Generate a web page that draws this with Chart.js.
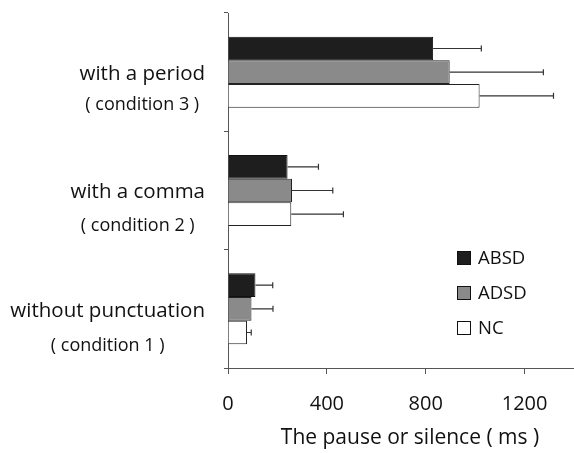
<!DOCTYPE html>
<html><head><meta charset="utf-8">
<script src="https://cdn.jsdelivr.net/npm/chart.js@4"></script>
<style>html,body{margin:0;padding:0;background:#fff}#wrap{width:574px;height:453px;position:relative}</style>
</head><body><div id="wrap"><canvas id="c" width="574" height="453"></canvas></div>
<script>
const categories = ["with a period", "with a comma", "without punctuation"];
const subLabels = ["( condition 3 )", "( condition 2 )", "( condition 1 )"];
const seriesNames = ["ABSD", "ADSD", "NC"];
const absd = [830, 241, 111];
const adsd = [897, 259, 95];
const nc = [1018, 256, 77];
const absdErr = [195, 125, 70];
const adsdErr = [379, 165, 87];
const ncErr = [299, 211, 17];
const xTicks = [0, 400, 800, 1200];
const xTitle = "The pause or silence ( ms )";

const FONT = "'Open Sans', 'Noto Sans', sans-serif";
const fills = ["#1e1e1e", "#8a8a8a", "#ffffff"];
const errs = [absdErr, adsdErr, ncErr];

const errPlugin = {
  id: 'errbars',
  afterDatasetsDraw(chart) {
    const ctx = chart.ctx;
    const xs = chart.scales.x;
    ctx.save();
    ctx.strokeStyle = '#333';
    ctx.lineWidth = 1.2;
    chart.data.datasets.forEach((ds, di) => {
      const meta = chart.getDatasetMeta(di);
      meta.data.forEach((bar, i) => {
        const x0 = xs.getPixelForValue(ds.data[i]);
        const x1 = xs.getPixelForValue(ds.data[i] + errs[di][i]);
        const y = bar.y;
        ctx.beginPath();
        ctx.moveTo(x0, y); ctx.lineTo(x1, y);
        ctx.moveTo(x1, y - 3); ctx.lineTo(x1, y + 3);
        ctx.stroke();
      });
    });
    ctx.restore();
  }
};

const labelPlugin = {
  id: 'labels',
  afterDraw(chart) {
    const ctx = chart.ctx;
    const ys = chart.scales.y;
    ctx.save();
    ctx.fillStyle = '#111';
    ctx.textBaseline = 'middle';
    categories.forEach((c, i) => {
      const yc = ys.getPixelForValue(i);
      ctx.font = "20.5px " + FONT;
      const w = ctx.measureText(c).width;
      const right = 205;
      ctx.textAlign = 'right';
      ctx.fillText(c, right, yc + 2);
      ctx.font = "18px " + FONT;
      ctx.textAlign = 'center';
      ctx.fillText(subLabels[i], right - w / 2, yc + 33 + i * 2);
    });
    // x title
    ctx.font = "21px " + FONT;
    ctx.textAlign = 'center';
    ctx.fillText(xTitle, 410, 438);
    // legend
    const ly = [258, 293, 328];
    chart.data.datasets.forEach((ds, di) => {
      ctx.fillStyle = fills[di];
      ctx.fillRect(457, ly[di] - 7, 14, 14);
      ctx.strokeStyle = '#111';
      ctx.lineWidth = 1;
      ctx.strokeRect(457.5, ly[di] - 6.5, 13, 13);
      ctx.fillStyle = '#111';
      ctx.font = "18.5px " + FONT;
      ctx.textAlign = 'left';
      ctx.fillText(ds.label, 478, ly[di] + 1);
    });
    ctx.restore();
  }
};

new Chart(document.getElementById('c'), {
  type: 'bar',
  data: {
    labels: categories,
    datasets: [
      {label: seriesNames[0], data: absd, backgroundColor: fills[0], borderColor: '#111', borderWidth: 1},
      {label: seriesNames[1], data: adsd, backgroundColor: fills[1], borderColor: '#222', borderWidth: 1},
      {label: seriesNames[2], data: nc, backgroundColor: fills[2], borderColor: '#222', borderWidth: 1}
    ]
  },
  options: {
    indexAxis: 'y',
    responsive: false,
    animation: false,
    layout: {padding: {top: 13, right: 0, left: 0, bottom: 0}},
    datasets: {bar: {categoryPercentage: 0.6, barPercentage: 1.0}},
    plugins: {legend: {display: false}, tooltip: {enabled: false}},
    scales: {
      x: {
        min: 0, max: 1400,
        afterBuildTicks(s) { s.ticks = xTicks.map(v => ({value: v})); },
        afterFit(s) { s.height = 85; },
        grid: {display: true, drawOnChartArea: false, tickLength: 6, color: '#555'},
        border: {display: true, color: '#555', width: 1},
        ticks: {font: {size: 20, family: FONT}, color: '#111', padding: 18, maxRotation: 0,
                callback: v => String(v)}
      },
      y: {
        afterFit(s) { s.width = 228; },
        ticks: {display: false},
        grid: {display: true, drawOnChartArea: false, tickLength: 4, offset: true, color: '#555'},
        border: {display: true, color: '#555', width: 1}
      }
    }
  },
  plugins: [errPlugin, labelPlugin]
});
</script>
</body></html>
